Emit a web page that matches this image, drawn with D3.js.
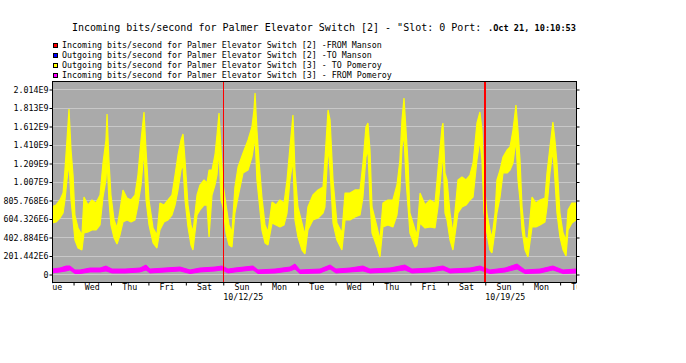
<!DOCTYPE html>
<html>
<head>
<meta charset="utf-8">
<script src="https://cdn.jsdelivr.net/npm/d3@7"></script>
<style>
body { margin: 0; background: #fff; }
text { font-family: "DejaVu Sans Mono", monospace; }
</style>
</head>
<body>
<script>
const width = 686;
const height = 363;

// chart text
const titleText = 'Incoming bits/second for Palmer Elevator Switch [2] - "Slot: 0 Port: ';
const stampText = ".Oct 21, 10:10:53";

const seriesNames = [
	"Incoming bits/second for Palmer Elevator Switch [2] -FROM Manson",
	"Outgoing bits/second for Palmer Elevator Switch [2] -TO Manson",
	"Outgoing bits/second for Palmer Elevator Switch [3] - TO Pomeroy",
	"Incoming bits/second for Palmer Elevator Switch [3] - FROM Pomeroy"
];
const seriesColors = ["#ff0000", "#0000ff", "#ffff00", "#ff00ff"];

// y ticks (Mbit/s) and their labels
const yTickValues = [0, 201.442, 402.884, 604.326, 805.768, 1007.21, 1208.652, 1410.094, 1611.536, 1812.978, 2014.42];
const yTickLabels = ["0", "201.442E6", "402.884E6", "604.326E6", "805.768E6", "1.007E9", "1.209E9", "1.410E9", "1.612E9", "1.813E9", "2.014E9"];

// x axis labels
const dayNames = ["Tue", "Wed", "Thu", "Fri", "Sat", "Sun", "Mon", "Tue", "Wed", "Thu", "Fri", "Sat", "Sun", "Mon", "Tue"];
const weekLabels = ["10/12/25", "10/19/25"];

// hours after Oct 7 10:10:53, values in Mbit/s (min / max of each sample)
const yellowHours = [0,2.6,5.1,7.1,8.3,9.6,10.9,12.2,13.5,14.7,16.7,19.2,20.5,23.1,25.6,28.2,30.8,32.7,34.6,35.3,36.5,37.8,39.8,41.7,43.6,45.5,48.1,50.7,53.2,55.1,57.1,59.0,60.3,62.2,64.8,67.3,69.2,71.8,74.4,76.9,78.9,80.8,82.7,84.0,85.3,87.2,89.1,90.4,93.0,94.9,97.5,99.4,100.7,102.6,104.5,105.8,107.1,108.4,109.6,111.6,113.5,115.4,117.3,119.3,122.5,125.7,128.2,129.5,130.2,131.4,132.7,134.6,136.6,138.5,141.1,143.6,146.2,148.8,150.7,152.6,154.5,155.8,157.7,160.3,162.2,164.1,167.3,170.6,173.8,175.0,177.0,178.3,180.2,182.7,185.9,187.9,191.1,194.3,197.5,199.4,201.3,202.6,203.9,205.2,208.4,210.3,212.2,215.4,218.6,221.2,223.1,224.4,225.7,227.0,228.3,229.5,232.8,234.0,236.0,239.2,242.4,245.6,247.5,250.1,250.7,252.0,253.3,255.2,257.1,260.3,262.9,265.5,268.0,270.0,272.5,274.4,275.7,277.0,278.9,280.8,282.1,284.1,285.3,287.3,289.2,291.8,293.7,295.6,297.5,298.8,300.1,301.4,303.3,305.2,307.8,310.3,312.9,316.1,317.4,319.3,321.2,322.5,323.8,325.7,327.7,329.6,330.9,333.4,336.0];
const yellowHigh = [730,751,806,882,1132,1459,1797,1350,1078,642,501,425,838,751,806,773,860,1209,1459,1742,1241,860,588,501,697,915,828,806,860,1078,1459,1764,1350,806,501,425,773,751,806,860,1078,1296,1459,1524,1241,751,534,457,860,969,1024,991,1132,1132,1296,1514,1753,1350,991,751,534,457,947,1165,1318,1459,1601,1786,1971,1568,1241,838,534,457,784,751,806,773,1024,1383,1731,1132,730,555,425,730,860,915,947,1241,1786,1677,1024,555,446,882,882,915,915,1209,1601,1644,1350,730,512,370,773,806,806,969,1241,1677,1916,1568,1209,664,479,425,882,751,806,773,1132,1601,1644,1100,1024,664,446,1024,1056,1024,1078,1209,1644,1764,1568,1024,664,479,392,664,1024,1132,1274,1350,1383,1568,1840,1568,1241,730,403,370,838,773,806,828,1100,1383,1655,1459,1209,664,446,370,697,773,773];
const yellowLow = [555,566,610,664,806,1024,1209,806,588,370,283,261,446,457,479,479,534,838,1024,1241,806,534,392,327,425,566,588,566,588,751,969,1350,806,534,338,283,479,566,588,642,751,915,1132,1187,806,512,316,261,642,697,751,751,403,860,969,1078,1350,806,730,446,316,294,664,838,1100,1132,1274,1405,1514,1024,806,479,338,316,555,534,512,534,664,1024,1241,588,403,261,218,479,588,610,664,730,1383,1132,555,370,261,588,588,621,642,838,1274,1350,806,446,294,185,512,534,512,642,915,1383,1514,1024,730,446,294,316,555,501,512,501,730,1209,1350,664,588,370,261,664,730,751,806,838,1241,1459,1241,664,446,261,229,479,664,838,1100,1100,1132,1209,1459,1024,806,479,261,185,512,512,534,566,730,1100,1350,1024,664,403,261,196,479,555,588];

const pinkHours = [0,5.1,9.0,11.5,14.7,18.0,24.4,30.8,34.6,38.5,46.8,56.4,60.3,62.8,72.5,82.1,88.5,94.9,104.5,109.0,112.9,117.3,128.9,132.1,143.0,152.6,155.8,159.0,171.8,178.3,182.1,191.1,199.4,203.9,216.7,226.3,230.8,242.4,250.7,255.2,268.0,274.4,280.8,290.5,298.2,303.3,312.9,321.2,327.7,336.0];
const pinkHigh = [54,65,87,87,44,44,65,65,87,54,54,65,98,54,65,76,44,65,76,87,54,65,87,44,54,76,109,44,54,98,54,65,87,54,65,98,54,65,87,54,65,87,44,65,109,44,54,87,44,54];
const pinkLow = [11,22,33,44,5,5,22,22,33,11,11,22,44,11,22,33,5,22,33,44,11,22,44,5,11,33,54,5,11,54,11,22,33,11,22,44,11,22,44,11,22,44,5,22,54,5,11,44,5,11];

const plot = { left: 52, right: 576, top: 81, bottom: 282 };

const start = new Date(2025, 9, 7, 10, 10, 53);
function toDate(h) { return new Date(start.getTime() + h * 3600e3); }
const end = toDate(336);

const x = d3.scaleTime().domain([start, end]).range([plot.left, plot.right]);
const y = d3.scaleLinear().domain([0, 2014.42]).range([plot.bottom - 8, plot.top + 8]);

const svg = d3.select("body")
	.append("svg")
	.attr("width", width)
	.attr("height", height);

const defs = svg.append("defs");
defs.append("clipPath").attr("id", "plotClip")
	.append("rect")
	.attr("x", plot.left).attr("y", plot.top)
	.attr("width", plot.right - plot.left).attr("height", plot.bottom - plot.top);
defs.append("clipPath").attr("id", "labelClip")
	.append("rect")
	.attr("x", plot.left).attr("y", plot.bottom)
	.attr("width", plot.right - plot.left + 1).attr("height", 30);

// title
svg.append("text")
	.attr("x", 72)
	.attr("y", 31)
	.attr("font-size", "10px")
	.attr("fill", "#000")
	.attr("xml:space", "preserve")
	.text(titleText);
svg.append("text")
	.attr("x", 488)
	.attr("y", 31)
	.attr("font-size", "8.6px")
	.attr("font-weight", "bold")
	.attr("fill", "#000")
	.text(stampText);

// legend
const legend = svg.append("g");
seriesNames.forEach(function (name, i) {
	legend.append("rect")
		.attr("x", 53.5)
		.attr("y", 43.5 + i * 10)
		.attr("width", 4)
		.attr("height", 4)
		.attr("fill", seriesColors[i])
		.attr("stroke", "#000");
	legend.append("text")
		.attr("x", 62)
		.attr("y", 48 + i * 10)
		.attr("font-size", "8.3px")
		.attr("fill", "#000")
		.text(name);
});

// plot background
svg.append("rect")
	.attr("x", plot.left).attr("y", plot.top)
	.attr("width", plot.right - plot.left).attr("height", plot.bottom - plot.top)
	.attr("fill", "#aaaaaa");

// grid
svg.append("g").selectAll("line")
	.data(yTickValues)
	.enter()
	.append("line")
	.attr("x1", plot.left).attr("x2", plot.right)
	.attr("y1", function (d) { return Math.round(y(d)) + 0.5; })
	.attr("y2", function (d) { return Math.round(y(d)) + 0.5; })
	.attr("stroke", "#c8c8c8");

// series
function band(hours, hi, lo) {
	return hours.map(function (h, i) { return { t: toDate(h), hi: hi[i], lo: lo[i] }; });
}
const area = d3.area()
	.x(function (d) { return x(d.t); })
	.y0(function (d) { return y(d.lo); })
	.y1(function (d) { return y(d.hi); });

const data = svg.append("g").attr("clip-path", "url(#plotClip)");
data.append("path")
	.attr("d", area(band(yellowHours, yellowHigh, yellowLow)))
	.attr("fill", seriesColors[2])
	.attr("stroke", seriesColors[2])
	.attr("stroke-width", 1.2)
	.attr("stroke-linejoin", "bevel");
data.append("path")
	.attr("d", area(band(pinkHours, pinkHigh, pinkLow)))
	.attr("fill", seriesColors[3])
	.attr("stroke", seriesColors[3])
	.attr("stroke-width", 1);

// week rules
const weekDates = [new Date(2025, 9, 12), new Date(2025, 9, 19)];
const ruleWidths = [1, 2];
svg.append("g").selectAll("line")
	.data(weekDates)
	.enter()
	.append("line")
	.attr("x1", function (d, i) { return Math.round(x(d)) + (ruleWidths[i] === 1 ? 0.5 : 0); })
	.attr("x2", function (d, i) { return Math.round(x(d)) + (ruleWidths[i] === 1 ? 0.5 : 0); })
	.attr("y1", plot.top).attr("y2", plot.bottom)
	.attr("stroke", "#ff0000")
	.attr("stroke-width", function (d, i) { return ruleWidths[i]; });

// frame
svg.append("rect")
	.attr("x", plot.left + 0.5).attr("y", plot.top + 0.5)
	.attr("width", plot.right - plot.left).attr("height", plot.bottom - plot.top)
	.attr("fill", "none")
	.attr("stroke", "#000");

// y axes
const yLeft = svg.append("g")
	.attr("transform", "translate(" + (plot.left + 0.5) + ",0.5)")
	.call(d3.axisLeft(y)
		.tickValues(yTickValues)
		.tickFormat(function (d, i) { return yTickLabels[i]; })
		.tickSize(3)
		.tickPadding(1));
yLeft.select(".domain").remove();
yLeft.selectAll("text").attr("font-family", "DejaVu Sans Mono").attr("font-size", "8.3px").attr("fill", "#000");

const yRight = svg.append("g")
	.attr("transform", "translate(" + (plot.right + 0.5) + ",0.5)")
	.call(d3.axisRight(y).tickValues(yTickValues).tickFormat("").tickSize(3));
yRight.select(".domain").remove();

// x axis
const midnights = d3.timeDay.range(d3.timeDay.ceil(start), end);
const xAxis = svg.append("g")
	.attr("transform", "translate(0," + (plot.bottom + 0.5) + ")")
	.call(d3.axisBottom(x).tickValues(midnights).tickFormat("").tickSize(3));
xAxis.select(".domain").remove();

const firstDay = d3.timeDay.floor(start);
svg.append("g")
	.attr("clip-path", "url(#labelClip)")
	.selectAll("text")
	.data(dayNames)
	.enter()
	.append("text")
	.attr("x", function (d, i) { return x(d3.timeHour.offset(firstDay, i * 24 + 12)); })
	.attr("y", 290)
	.attr("text-anchor", "middle")
	.attr("font-size", "8.3px")
	.attr("fill", "#000")
	.text(function (d) { return d; });

svg.append("g").selectAll("text")
	.data(weekLabels)
	.enter()
	.append("text")
	.attr("x", function (d, i) { return x(weekDates[i]); })
	.attr("y", 299.5)
	.attr("font-size", "8.3px")
	.attr("fill", "#000")
	.text(function (d) { return d; });
</script>
</body>
</html>
